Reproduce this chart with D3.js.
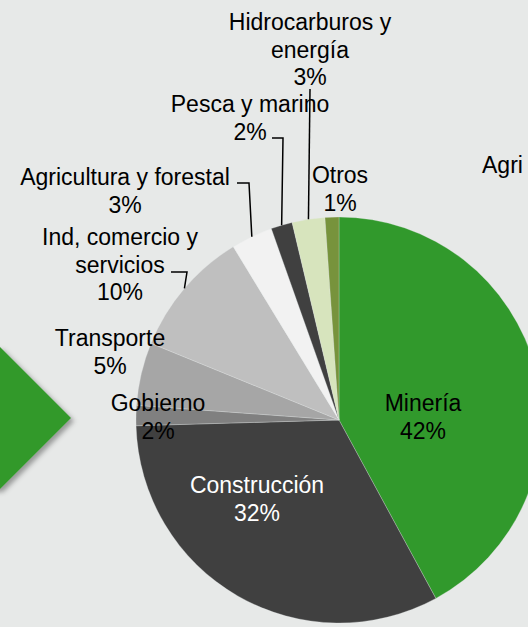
<!DOCTYPE html>
<html>
<head>
<meta charset="utf-8">
<script src="https://cdn.jsdelivr.net/npm/d3@7"></script>
<style>
  html, body { margin: 0; padding: 0; background: #e7e9e8; overflow: hidden; }
  svg { display: block; font-family: "Liberation Sans", Arial, sans-serif; }
</style>
</head>
<body>
<svg id="chart" width="528" height="627"></svg>
<script>
// sectors, clockwise from 12 o'clock
const sectors = ['Minería', 'Construcción', 'Gobierno', 'Transporte', 'Ind, comercio y servicios',
  'Agricultura y forestal', 'Pesca y marino', 'Hidrocarburos y energía', 'Otros'];
const shares = [42.0, 32.4, 1.6, 5.0, 10.1, 3.3, 1.7, 2.6, 1.1];
const labelLines = [
  ['Minería'], ['Construcción'], ['Gobierno'], ['Transporte'], ['Ind, comercio y', 'servicios'],
  ['Agricultura y forestal'], ['Pesca y marino'], ['Hidrocarburos y', 'energía'], ['Otros']
];
const colors = ['#31992c', '#404040', '#808080', '#a6a6a6', '#bfbfbf', '#f2f2f2', '#404040', '#d7e4bd', '#77933c'];

const W = 528, H = 627;
const cx = 339, cy = 420, r = 203;
const lineH = 27.5;

// label anchors (centre of text block's first line), relative to pie centre
const labelLayout = [
  { dx: 84, dy: -17, fill: '#000' },
  { dx: -82, dy: 65, fill: '#fff' },
  { dx: -181, dy: -17, fill: '#000' },
  { dx: -229, dy: -82, fill: '#000' },
  { dx: -219, dy: -183, fill: '#000', lead: [-168, -148, -152] },
  { dx: -214, dy: -243, fill: '#000', lead: [-102, -237, -90] },
  { dx: -89, dy: -316, fill: '#000', lead: [-67, -282, -56] },
  { dx: -29, dy: -398, fill: '#000', lead: [-29, -331, -29] },
  { dx: 1, dy: -245, fill: '#000' }
];

const svg = d3.select('#chart');
svg.append('rect').attr('width', W).attr('height', H).attr('fill', '#e7e9e8');

// green arrow from neighbouring slide element, with soft shadow
const defs = svg.append('defs');
const f = defs.append('filter').attr('id', 'shadow').attr('x', '-20%').attr('y', '-20%').attr('width', '150%').attr('height', '150%');
f.append('feDropShadow').attr('dx', 3).attr('dy', 3).attr('stdDeviation', 2.5)
  .attr('flood-color', '#000').attr('flood-opacity', 0.35);
svg.append('path')
  .attr('d', d3.line()([[-80, 347], [0, 347], [71, 418], [0, 489], [-80, 489]]))
  .attr('fill', '#31992c')
  .attr('filter', 'url(#shadow)');

const data = sectors.map((s, i) => ({ name: s, value: shares[i], i }));
const pie = d3.pie().value(d => d.value).sort(null);
const arcs = pie(data);
const arc = d3.arc().innerRadius(0).outerRadius(r);
const edge = d3.arc().innerRadius(r).outerRadius(r);
const total = d3.sum(shares);
const pct = v => Math.round(v / total * 100) + '%';

const g = svg.append('g').attr('transform', `translate(${cx},${cy})`);

g.selectAll('path.slice')
  .data(arcs)
  .join('path')
  .attr('class', 'slice')
  .attr('d', arc)
  .attr('fill', d => colors[d.data.i])
  .attr('stroke', '#e7e9e8')
  .attr('stroke-opacity', 0.35)
  .attr('stroke-width', 0.8);

// leader lines: label side -> elbow -> slice edge
arcs.forEach(d => {
  const L = labelLayout[d.data.i];
  if (!L.lead) return;
  const [ex, ey] = edge.centroid(d);
  const pts = [[L.lead[0], L.lead[1]], [L.lead[2], L.lead[1]], [ex, ey]];
  g.append('path')
    .attr('d', d3.line()(pts))
    .attr('fill', 'none')
    .attr('stroke', '#000')
    .attr('stroke-width', 1.5);
});

// labels
arcs.forEach(d => {
  const L = labelLayout[d.data.i];
  const lines = labelLines[d.data.i].concat([pct(d.data.value)]);
  const t = g.append('text')
    .attr('text-anchor', 'middle')
    .attr('font-size', 23)
    .attr('fill', L.fill);
  lines.forEach((s, k) => {
    t.append('tspan')
      .attr('x', L.dx)
      .attr('y', L.dy + k * lineH)
      .attr('dy', '0.35em')
      .text(s);
  });
});

// visible part of a label from the neighbouring chart
svg.append('text')
  .attr('x', 482).attr('y', 165).attr('dy', '0.35em')
  .attr('font-size', 23)
  .attr('fill', '#000')
  .text('Agri');
</script>
</body>
</html>
